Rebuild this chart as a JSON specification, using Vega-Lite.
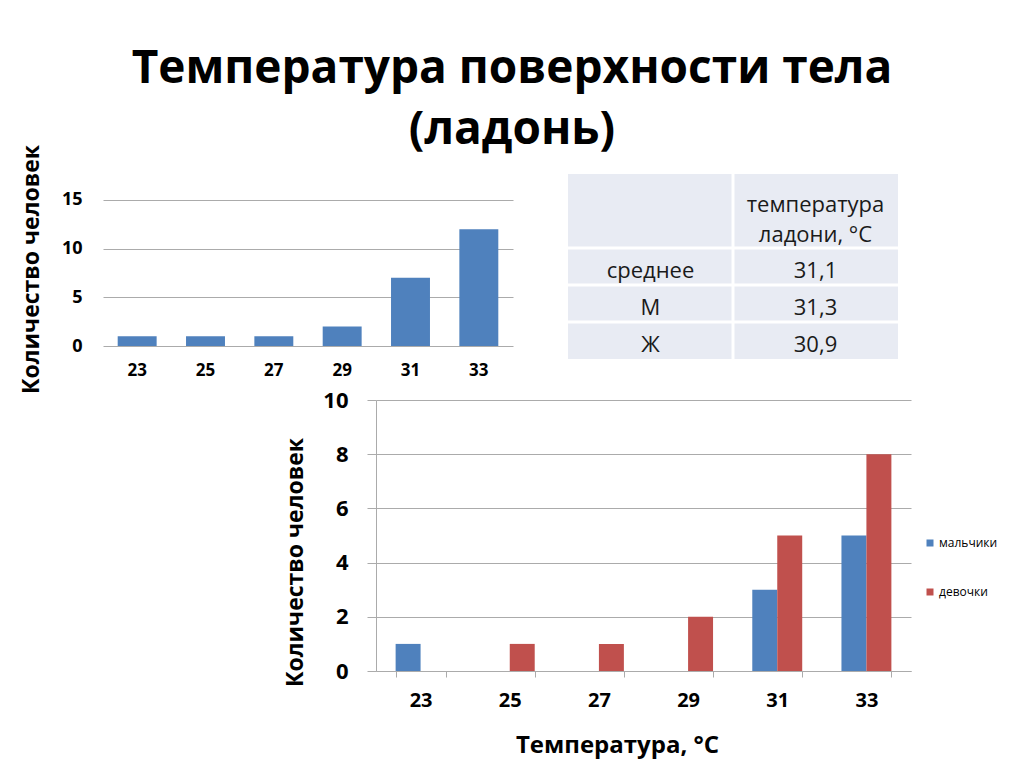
{
  "$schema": "https://vega.github.io/schema/vega-lite/v6.json",
  "padding": {"left": 19, "top": 46, "right": 5, "bottom": 5},
  "background": "white",
  "title": {
    "text": ["Температура поверхности тела", "(ладонь)"],
    "fontSize": 46,
    "font": "Open Sans",
    "fontWeight": "bold",
    "color": "#000",
    "lineHeight": 61,
    "anchor": "middle",
    "offset": -10,
    "dx": 3
  },
  "config": {
    "view": {"stroke": null},
    "font": "Open Sans",
    "axis": {
      "labelColor": "#000",
      "titleColor": "#000",
      "labelFont": "Open Sans",
      "titleFont": "Open Sans",
      "labelFontWeight": "bold",
      "titleFontWeight": "bold",
      "gridColor": "#ababab",
      "domainColor": "#ababab",
      "tickColor": "#ababab"
    }
  },
  "bounds": "flush",
  "spacing": 226,
  "vconcat": [
    {
      "bounds": "flush",
      "spacing": 55,
      "hconcat": [
        {
          "width": 410,
          "height": 172,
          "data": {"values": [
            {"t": "23", "n": 1},
            {"t": "25", "n": 1},
            {"t": "27", "n": 1},
            {"t": "29", "n": 2},
            {"t": "31", "n": 7},
            {"t": "33", "n": 12}
          ]},
          "mark": {"type": "bar", "color": "#4f81bd"},
          "encoding": {
            "x": {
              "field": "t", "type": "ordinal",
              "scale": {"paddingInner": 0.43, "paddingOuter": 0.215},
              "axis": {"title": null, "labelAngle": 0, "ticks": false, "domain": false, "labelFontSize": 17, "labelPadding": 16}
            },
            "y": {
              "field": "n", "type": "quantitative",
              "scale": {"domain": [0, 17.67], "nice": false},
              "axis": {
                "values": [0, 5, 10, 15],
                "title": "Количество человек",
                "titleFontSize": 23,
                "titleX": -60,
                "titleY": 95,
                "domain": false,
                "ticks": false,
                "labelFontSize": 18,
                "labelPadding": 21
              }
            }
          }
        },
        {
          "width": 330,
          "height": 185,
          "data": {"values": [
            {"r": "h1", "c": "a", "txt": ""},
            {"r": "h1", "c": "b", "txt": "температура"},
            {"r": "h2", "c": "a", "txt": ""},
            {"r": "h2", "c": "b", "txt": "ладони, °C"},
            {"r": "r1", "c": "a", "txt": "среднее"},
            {"r": "r1", "c": "b", "txt": "31,1"},
            {"r": "r2", "c": "a", "txt": "М"},
            {"r": "r2", "c": "b", "txt": "31,3"},
            {"r": "r3", "c": "a", "txt": "Ж"},
            {"r": "r3", "c": "b", "txt": "30,9"}
          ]},
          "encoding": {
            "x": {"field": "c", "type": "nominal", "scale": {"domain": ["a", "b"], "paddingInner": 0, "paddingOuter": 0}, "axis": null},
            "y": {"field": "r", "type": "nominal", "scale": {"domain": ["h1", "h2", "r1", "r2", "r3"], "paddingInner": 0, "paddingOuter": 0}, "axis": null}
          },
          "layer": [
            {"mark": {"type": "rect", "fill": "#e8ebf3"}},
            {
              "transform": [{"filter": "datum.c == 'a' && (datum.r == 'r1' || datum.r == 'r2' || datum.r == 'r3')"}],
              "mark": {"type": "rule", "color": "white", "strokeWidth": 3},
              "encoding": {"x": null, "y": {"field": "r", "type": "nominal", "bandPosition": 0}}
            },
            {
              "transform": [{"filter": "datum.c == 'b' && datum.r == 'h1'"}],
              "mark": {"type": "rule", "color": "white", "strokeWidth": 3},
              "encoding": {"y": null, "x": {"field": "c", "type": "nominal", "bandPosition": 0}}
            },
            {
              "transform": [{"filter": "datum.r == 'r1' || datum.r == 'r2' || datum.r == 'r3'"}],
              "mark": {"type": "text", "fontSize": 22, "color": "#1a1a1a", "baseline": "middle", "dy": 4},
              "encoding": {"text": {"field": "txt"}}
            },
            {
              "transform": [{"filter": "datum.r == 'h1'"}],
              "mark": {"type": "text", "fontSize": 22, "color": "#1a1a1a", "baseline": "middle", "dy": 12},
              "encoding": {"text": {"field": "txt"}}
            },
            {
              "transform": [{"filter": "datum.r == 'h2'"}],
              "mark": {"type": "text", "fontSize": 22, "color": "#1a1a1a", "baseline": "middle", "dy": 5},
              "encoding": {"text": {"field": "txt"}}
            }
          ]
        }
      ]
    },
    {
      "bounds": "flush",
      "spacing": 10,
      "resolve": {"scale": {"color": "independent"}, "legend": {"color": "independent"}},
      "hconcat": [
        {
          "width": 263,
          "height": 10,
          "data": {"values": []},
          "mark": "point",
          "encoding": {}
        },
        {
          "width": 535,
          "height": 271,
          "data": {"values": [
            {"t": "23", "g": "мальчики", "n": 1},
            {"t": "25", "g": "девочки", "n": 1},
            {"t": "27", "g": "девочки", "n": 1},
            {"t": "29", "g": "девочки", "n": 2},
            {"t": "31", "g": "мальчики", "n": 3},
            {"t": "31", "g": "девочки", "n": 5},
            {"t": "33", "g": "мальчики", "n": 5},
            {"t": "33", "g": "девочки", "n": 8}
          ]},
          "mark": {"type": "bar"},
          "encoding": {
            "x": {
              "field": "t", "type": "ordinal",
              "scale": {"domain": ["23", "25", "27", "29", "31", "33"], "paddingInner": 0.44, "paddingOuter": 0.22},
              "axis": {
                "title": "Температура, °C",
                "titleFontSize": 24,
                "titleX": 241,
                "titleY": 62,
                "tickBand": "extent",
                "ticks": true,
                "tickSize": 6,
                "labelAngle": 0,
                "labelFontSize": 20,
                "labelPadding": 13
              }
            },
            "xOffset": {"field": "g", "type": "nominal", "scale": {"domain": ["мальчики", "девочки"], "paddingInner": 0, "paddingOuter": 0}},
            "y": {
              "field": "n", "type": "quantitative",
              "scale": {"domain": [0, 10], "nice": false},
              "axis": {
                "values": [0, 2, 4, 6, 8, 10],
                "title": "Количество человек",
                "titleFontSize": 23,
                "titleX": -69,
                "titleY": 162,
                "tickSize": 9,
                "labelFontSize": 22,
                "labelPadding": 19
              }
            },
            "color": {
              "field": "g", "type": "nominal",
              "scale": {"domain": ["мальчики", "девочки"], "range": ["#4f81bd", "#c0504d"]},
              "legend": {
                "title": null,
                "orient": "none",
                "legendX": 548,
                "legendY": 137,
                "symbolType": "square",
                "symbolSize": 49,
                "symbolStrokeWidth": 0,
                "labelFontSize": 12,
                "labelColor": "#000",
                "labelFont": "Open Sans",
                "rowPadding": 37,
                "labelOffset": 3
              }
            }
          }
        }
      ]
    }
  ]
}
